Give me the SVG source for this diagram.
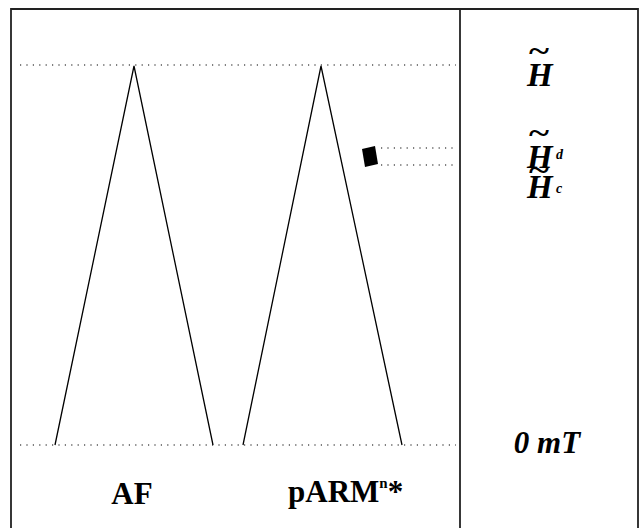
<svg xmlns="http://www.w3.org/2000/svg" width="640" height="528" viewBox="0 0 640 528">
<style>
.frame{fill:none;stroke:#222;stroke-width:1.8}
.dot{fill:none;stroke:#000;stroke-width:1.2;stroke-dasharray:1.2 5.2}
.tri{fill:none;stroke:#000;stroke-width:1.3}
.lab{font-family:"Liberation Serif",serif;font-weight:bold;fill:#000}
.it{font-style:italic}
.tl{font-style:normal;font-size:30px}
</style>
<rect width="640" height="528" fill="#fff"/>
<g id="frame">
<path class="frame" d="M11,530 V9 H638 V530"/>
<line class="frame" x1="460" y1="9" x2="460" y2="530"/>
</g>
<g id="connectors">
<line class="dot" x1="20" y1="65" x2="456" y2="65"/>
<line class="dot" x1="20" y1="445" x2="456" y2="445"/>
<line class="dot" x1="381" y1="148" x2="456" y2="148"/>
<line class="dot" x1="381" y1="165" x2="456" y2="165"/>
</g>
<g id="AF">
<polyline class="tri" points="55,445 134,66 213,445"/>
<text class="lab" x="132" y="504" font-size="31" text-anchor="middle">AF</text>
</g>
<g id="pARM">
<polyline class="tri" points="243,445 321,66 402,445"/>
<polygon points="362,149 375,146 378,164 365,167" fill="#000"/>
<text class="lab" x="288" y="502" font-size="31">pARM<tspan font-size="15" dy="-14">n</tspan><tspan dy="14">*</tspan></text>
</g>
<g id="scale">
<text class="lab it" x="527" y="86" font-size="33">H<tspan class="tl" x="529" y="61" textLength="20" lengthAdjust="spacingAndGlyphs">~</tspan></text>
<text class="lab it" x="527" y="168" font-size="33">H<tspan class="tl" x="529" y="143" textLength="20" lengthAdjust="spacingAndGlyphs">~</tspan><tspan font-size="14" x="556" y="159">d</tspan></text>
<text class="lab it" x="527" y="198" font-size="33">H<tspan class="tl" x="529" y="180" textLength="20" lengthAdjust="spacingAndGlyphs">~</tspan><tspan font-size="14" x="556" y="193">c</tspan></text>
<text class="lab it" x="547" y="453" font-size="31" text-anchor="middle">0 mT</text>
</g>
</svg>
